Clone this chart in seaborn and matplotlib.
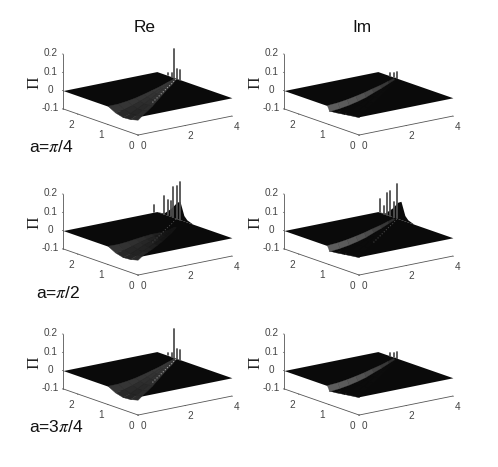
import numpy as np
import matplotlib
matplotlib.use('Agg')
import matplotlib.pyplot as plt
import seaborn as sns

# grid of the flat part of the surface
plane_x = [0, 4]
plane_y = [0, 2.5]

# wedge between the two edges
wedge_x = [0, 0.5, 1, 1.5, 2, 2.5, 3, 3.5, 4]
wedge_low = [0, 0.23, 0.46, 0.69, 0.92, 1.15, 1.38, 1.6, 1.85]
wedge_high = [1.0, 1.05, 1.14, 1.25, 1.37, 1.5, 1.63, 1.77, 1.9]
wedge_across = [0, 0.25, 0.5, 0.75, 1]

# depth of the wedge (one row per wedge_x)
re_depth = [[-0.019, -0.03, -0.033, -0.022, 0],
            [-0.018, -0.03, -0.032, -0.022, -0.004],
            [-0.02, -0.028, -0.028, -0.02, -0.006],
            [-0.02, -0.024, -0.024, -0.018, -0.008],
            [-0.016, -0.02, -0.02, -0.016, -0.008],
            [-0.012, -0.014, -0.016, -0.012, -0.008],
            [-0.008, -0.01, -0.01, -0.01, -0.008],
            [-0.006, -0.006, -0.006, -0.008, -0.006],
            [-0.004, -0.004, -0.004, -0.004, -0.004]]
re_depth_mid = [[-0.019, -0.03, -0.033, -0.022, 0],
                [-0.02, -0.032, -0.034, -0.026, -0.006],
                [-0.028, -0.034, -0.032, -0.024, -0.01],
                [-0.036, -0.036, -0.03, -0.024, -0.014],
                [-0.042, -0.04, -0.034, -0.028, -0.02],
                [-0.048, -0.046, -0.04, -0.034, -0.028],
                [-0.05, -0.05, -0.048, -0.044, -0.04],
                [-0.05, -0.05, -0.05, -0.05, -0.05],
                [-0.05, -0.05, -0.05, -0.05, -0.05]]
im_depth = [[-0.005, -0.01, -0.016, -0.022, -0.026],
            [-0.004, -0.008, -0.012, -0.016, -0.018],
            [-0.004, -0.006, -0.008, -0.01, -0.012],
            [-0.002, -0.004, -0.006, -0.006, -0.006],
            [-0.002, -0.002, -0.004, -0.004, -0.004],
            [0, -0.002, -0.002, -0.002, -0.002],
            [0, 0, 0, 0, 0],
            [0, 0, 0, 0, 0],
            [0, 0, 0, 0, 0]]

# grey band of the Im panels
band_x = [0, 0.5, 1, 1.5, 2, 2.5, 3, 3.5, 3.9]
band_low = [0.98, 1.03, 1.11, 1.21, 1.33, 1.47, 1.6, 1.75, 1.86]
band_high = [1.06, 1.1, 1.18, 1.28, 1.39, 1.52, 1.64, 1.78, 1.89]
band_depth = [-0.028, -0.027, -0.026, -0.024, -0.022, -0.018, -0.014, -0.01, -0.006]

# spikes along the far edge: x, y, height
spikes_re_1 = ([4, 4, 4, 4, 4], [2.13, 2.0, 1.93, 1.83, 1.73], [0.015, 0.02, 0.155, 0.05, 0.055])
spikes_im_1 = ([4, 4, 4], [2.1, 1.97, 1.87], [0.016, 0.025, 0.035])
spikes_re_2 = ([3.87, 4, 4, 4, 4, 4, 4], [2.5, 2.27, 2.13, 2.03, 1.97, 1.83, 1.73],
               [0.04, 0.1, 0.086, 0.087, 0.166, 0.18, 0.207])
spikes_im_2 = ([4, 4, 4, 4, 4, 4], [2.43, 2.3, 2.2, 2.1, 1.97, 1.87],
               [0.075, 0.044, 0.12, 0.137, 0.085, 0.188])
spikes_re_3 = ([4, 4, 4, 4, 4], [2.13, 2.0, 1.93, 1.83, 1.73], [0.015, 0.02, 0.155, 0.05, 0.05])
spikes_im_3 = ([4, 4, 4], [2.1, 1.97, 1.87], [0.014, 0.02, 0.036])

# dark wall under the spikes for a=pi/2
wall_y = [1.3, 1.5, 1.6, 1.73, 1.83, 2.03, 2.27, 2.5]
wall_z = [0.0, 0.012, 0.03, 0.1, 0.09, 0.045, 0.005, 0.0]

x_ticks = [0, 2, 4]
y_ticks = [0, 1, 2]
z_ticks = [-0.1, 0, 0.1, 0.2]
z_tick_labels = ['-0.1', '0', '0.1', '0.2']
row_labels = ['a=$\\pi$/4', 'a=$\\pi$/2', 'a=3$\\pi$/4']
label_pos = [(29, 147), (36, 293), (29, 427)]
col_titles = ['Re', 'Im']

W, H = 498, 467

sns.set_theme(style='white', font='Liberation Sans')
plt.rcParams['mathtext.fontset'] = 'stix'

re_cmap = sns.blend_palette(['#141414', '#404040'], as_cmap=True)
im_cmap = sns.blend_palette(['#5e5e5e', '#1a1a1a'], as_cmap=True)
black_cmap = sns.blend_palette(['#050505', '#0c0c0c'], as_cmap=True)


def draw_panel(fig, col, row, depth, spikes, is_im, wall):
    dx = 221 * col
    dy = 140 * row
    size = 175
    left = (57.6 + dx) / W
    bottom = (H - (85 + dy) - 0.5135 * size) / H
    ax = fig.add_axes([left, bottom, size / W, size / H], projection='3d',
                      computed_zorder=False)
    ax.set_proj_type('ortho')
    ax.view_init(elev=15.4, azim=-127.3)
    ax.set_box_aspect((118, 124, 57))
    ax.set_facecolor('none')

    # flat part
    px, py = np.meshgrid(plane_x, plane_y)
    ax.plot_surface(px, py, np.zeros_like(px, dtype=float), color='#0a0a0a',
                    shade=False, linewidth=0, zorder=1)

    # wedge
    wx = np.array(wedge_x)[:, None] * np.ones(len(wedge_across))
    wy = np.array(wedge_low)[:, None] + (np.array(wedge_high) - np.array(wedge_low))[:, None] * np.array(wedge_across)
    wz = np.array(depth)
    cmap = black_cmap if is_im else re_cmap
    surf = ax.plot_surface(wx, wy, wz, cmap=cmap, vmin=-0.05, vmax=0, shade=False,
                           linewidth=0.3, antialiased=True, zorder=2)
    surf.set_edgecolor('face')

    if is_im:
        bx = np.array(band_x)[:, None] * np.ones(2)
        by = np.column_stack([band_low, band_high])
        bz = np.column_stack([band_depth, np.zeros(len(band_depth))])
        band = ax.plot_surface(bx, by, bz, cmap=im_cmap, vmin=-0.014, vmax=0,
                               shade=False, linewidth=0.2, antialiased=True, zorder=3)
        band.set_edgecolor('face')

    # dotted ridge, faint in the a=pi/2 row
    if not is_im or wall:
        dots = '#555555' if wall else '#bbbbbb'
        ax.plot(wedge_x[3:], wedge_low[3:], np.zeros(6), color=dots, lw=0.7,
                ls=(0, (1, 2)), zorder=3)

    if wall:
        ax.fill_between(np.full(len(wall_y), 4.0), wall_y, np.zeros(len(wall_y)),
                        np.full(len(wall_y), 4.0), wall_y, wall_z,
                        color='#0a0a0a', linewidth=0, zorder=4)

    for sx, sy, sh in zip(*spikes):
        ax.plot([sx, sx], [sy, sy], [0, sh], color='#505050', lw=1.3, zorder=5)

    ax.set_xlim(0, 4, view_margin=0)
    ax.set_ylim(0, 2.5, view_margin=0)
    ax.set_zlim(-0.1, 0.2, view_margin=0)
    ax.set_xticks(x_ticks)
    ax.set_yticks(y_ticks)
    ax.set_zticks(z_ticks)
    ax.set_zticklabels(z_tick_labels, va='center')
    ax.grid(False)
    for axis, pad in ((ax.xaxis, -3.5), (ax.yaxis, -3), (ax.zaxis, -3)):
        axis.pane.fill = False
        axis.pane.set_edgecolor('none')
        axis.line.set_color('#555555')
        axis.line.set_linewidth(0.6)
        axis._axinfo['tick'].update(inward_factor=0.1, outward_factor=0.0, linewidth={True: 0.5, False: 0.5})
        axis.set_tick_params(labelsize=7.2, labelcolor='#444444', color='#555555', pad=pad)
    return ax


fig = plt.figure(figsize=(W / 100, H / 100), dpi=100)

panels = [(0, 0, re_depth, spikes_re_1, False, False),
          (1, 0, im_depth, spikes_im_1, True, False),
          (0, 1, re_depth_mid, spikes_re_2, False, True),
          (1, 1, im_depth, spikes_im_2, True, True),
          (0, 2, re_depth, spikes_re_3, False, False),
          (1, 2, im_depth, spikes_im_3, True, False)]
for p in panels:
    draw_panel(fig, *p)

# texts
fig.text(145 / W, 1 - 28 / H, col_titles[0], fontsize=12.4, ha='center', va='center', color='#111111')
fig.text(362 / W, 1 - 28 / H, col_titles[1], fontsize=12.4, ha='center', va='center', color='#111111')
for lab, (lx, ly) in zip(row_labels, label_pos):
    fig.text(lx / W, 1 - ly / H, lab, fontsize=12.6, ha='left', va='center', color='#111111')
for row in range(3):
    for col in range(2):
        fig.text((34 + 221 * col) / W, 1 - (83 + 140 * row) / H, 'Π', family='Liberation Serif',
                 fontsize=12.5, rotation=90, ha='center', va='center', color='#222222')

fig.savefig('out.png', dpi=100)
